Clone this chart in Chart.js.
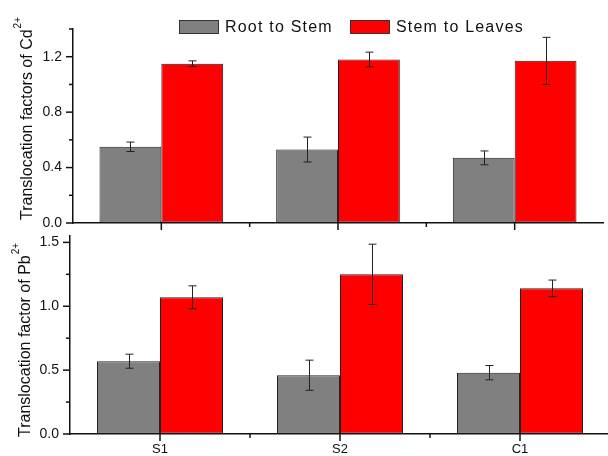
<!DOCTYPE html>
<html>
<head>
<meta charset="utf-8">
<script src="https://cdn.jsdelivr.net/npm/chart.js@4.4.0/dist/chart.umd.min.js"></script>
<style>
  html, body { margin: 0; padding: 0; background: #fff; overflow: hidden; }
  #wrap { position: relative; width: 608px; height: 456px; overflow: hidden; font-family: "Liberation Sans", Arial, sans-serif; }
  #cdChart { position: absolute; left: 0; top: 0; }
  #pbChart { position: absolute; left: 0; top: 232px; }
  .lgBox { position: absolute; top: 19.5px; width: 40px; height: 14px; box-sizing: border-box; border: 1px solid #333; }
  .lgText { position: absolute; top: 18.7px; font-size: 16px; line-height: 16px; letter-spacing: 1.2px; color: #111; white-space: nowrap; }
</style>
</head>
<body>
<div id="wrap">
  <canvas id="cdChart" width="608" height="232"></canvas>
  <canvas id="pbChart" width="612" height="224"></canvas>
  <div id="legend"></div>
</div>
<script>
// data
const categories = ['S1', 'S2', 'C1'];
const seriesNames = ['Root to Stem', 'Stem to Leaves'];
const seriesColors = ['#808080', '#ff0000'];

const cdRoot = [0.55, 0.53, 0.47];
const cdRootErr = [0.034, 0.09, 0.05];
const cdLeaves = [1.15, 1.18, 1.17];
const cdLeavesErr = [0.02, 0.053, 0.17];

const pbRoot = [0.57, 0.46, 0.48];
const pbRootErr = [0.055, 0.118, 0.056];
const pbLeaves = [1.07, 1.25, 1.14];
const pbLeavesErr = [0.09, 0.236, 0.065];

// labelled ticks, and all tick marks (major + minor)
const cdTickLabels = [0, 0.4, 0.8, 1.2];
const cdTickMarks = [0, 0.2, 0.4, 0.6, 0.8, 1.0, 1.2, 1.4];
const pbTickLabels = [0, 0.5, 1.0, 1.5];
const pbTickMarks = [0, 0.25, 0.5, 0.75, 1.0, 1.25, 1.5];

const FONT = '"Liberation Sans", Arial, sans-serif';
Chart.defaults.font.family = FONT;
Chart.defaults.color = '#111';

// vertical error bars from the y scale
const errorBars = {
  id: 'errorBars',
  afterDatasetsDraw(chart, args, opts) {
    const ctx = chart.ctx, y = chart.scales.y;
    ctx.save();
    ctx.strokeStyle = '#222';
    ctx.lineWidth = 1;
    chart.data.datasets.forEach((ds, i) => {
      chart.getDatasetMeta(i).data.forEach((bar, j) => {
        const v = ds.data[j], e = opts.errors[i][j];
        const x = Math.round(bar.x) + 0.5;
        const t = y.getPixelForValue(v + e), b = y.getPixelForValue(v - e);
        ctx.beginPath();
        ctx.moveTo(x, t); ctx.lineTo(x, b);
        ctx.moveTo(x - 4, t); ctx.lineTo(x + 4, t);
        ctx.moveTo(x - 4, b); ctx.lineTo(x + 4, b);
        ctx.stroke();
      });
    });
    ctx.restore();
  }
};

// outward major / minor tick marks
const axisMarks = {
  id: 'axisMarks',
  afterDraw(chart, args, opts) {
    const ctx = chart.ctx, x = chart.scales.x, y = chart.scales.y;
    ctx.save();
    ctx.strokeStyle = '#111';
    ctx.lineWidth = 1.5;
    const line = (x1, y1, x2, y2) => { ctx.beginPath(); ctx.moveTo(x1, y1); ctx.lineTo(x2, y2); ctx.stroke(); };
    y.ticks.forEach(t => {
      const len = t.label !== '' ? 7 : 4;
      const py = y.getPixelForValue(t.value);
      line(y.right - len, py, y.right, py);
    });
    categories.forEach((c, i) => {
      const px = x.getPixelForValue(i);
      line(px, x.top, px, x.top + 7);
      if (i > 0) {
        const m = (x.getPixelForValue(i - 1) + px) / 2;
        line(m, x.top, m, x.top + 4);
      }
    });
    ctx.restore();
  }
};

// rotated y title with superscript
const yTitle = {
  id: 'yTitle',
  afterDraw(chart, args, o) {
    const ctx = chart.ctx;
    ctx.save();
    ctx.translate(o.x, o.y);
    ctx.rotate(-Math.PI / 2);
    ctx.fillStyle = '#111';
    ctx.textAlign = 'left';
    ctx.textBaseline = 'alphabetic';
    ctx.font = '16px ' + FONT;
    ctx.fillText(o.text, 0, 0);
    const w = ctx.measureText(o.text).width;
    ctx.font = '10px ' + FONT;
    ctx.fillText(o.sup, w + 1, -11);
    ctx.restore();
  }
};

function isLabelled(v, list) {
  return list.some(l => Math.abs(l - v) < 1e-6);
}

function makePanel(id, rootVals, leafVals, errs, yMax, marks, labelled, title, sup, titlePos, pad, yWidth, xHeight, showX) {
  return new Chart(document.getElementById(id), {
    type: 'bar',
    data: {
      labels: categories,
      datasets: [
        { label: seriesNames[0], data: rootVals, backgroundColor: seriesColors[0], borderColor: '#222', borderWidth: 1, borderSkipped: false },
        { label: seriesNames[1], data: leafVals, backgroundColor: seriesColors[1], borderColor: '#222', borderWidth: 1, borderSkipped: false }
      ]
    },
    options: {
      responsive: false,
      animation: false,
      categoryPercentage: 0.70,
      barPercentage: 1.0,
      layout: { padding: pad },
      plugins: {
        legend: { display: false },
        tooltip: { enabled: false },
        errorBars: { errors: errs },
        yTitle: { text: title, sup: sup, x: titlePos[0], y: titlePos[1] }
      },
      scales: {
        x: {
          grid: { display: true, drawOnChartArea: false, drawTicks: false },
          border: { display: true, color: '#111', width: 1.5 },
          ticks: { display: showX, padding: 8, font: { size: 13 }, color: '#111' },
          afterFit(s) { s.height = xHeight; s.paddingLeft = 0; s.paddingRight = 0; }
        },
        y: {
          min: 0,
          max: yMax,
          grid: { display: true, drawOnChartArea: false, drawTicks: false },
          border: { display: true, color: '#111', width: 1.5 },
          ticks: {
            padding: 11,
            font: { size: 14 },
            color: '#111',
            callback: v => isLabelled(v, labelled) ? v.toFixed(1) : ''
          },
          afterBuildTicks(s) { s.ticks = marks.map(v => ({ value: v })); },
          afterFit(s) { s.width = yWidth; s.paddingTop = 0; s.paddingBottom = 0; }
        }
      }
    },
    plugins: [errorBars, axisMarks, yTitle]
  });
}

makePanel('cdChart', cdRoot, cdLeaves, [cdRootErr, cdLeavesErr], 1.4, cdTickMarks, cdTickLabels,
  'Translocation factors of Cd', '2+', [32, 220],
  { top: 29, left: 0, right: 5, bottom: 0 }, 73, 9, false);

makePanel('pbChart', pbRoot, pbLeaves, [pbRootErr, pbLeavesErr], 1.55, pbTickMarks, pbTickLabels,
  'Translocation factor of Pb', '2+', [29.5, 205],
  { top: 4, left: 0, right: 2, bottom: 0 }, 70, 22, true);

// legend built from the series arrays
const legend = document.getElementById('legend');
const boxLeft = [178.5, 349.5];
const textLeft = [225, 396];
seriesNames.forEach((name, i) => {
  const box = document.createElement('div');
  box.className = 'lgBox';
  box.style.left = boxLeft[i] + 'px';
  box.style.background = seriesColors[i];
  legend.appendChild(box);
  const txt = document.createElement('div');
  txt.className = 'lgText';
  txt.style.left = textLeft[i] + 'px';
  txt.textContent = name;
  legend.appendChild(txt);
});
</script>
</body>
</html>
